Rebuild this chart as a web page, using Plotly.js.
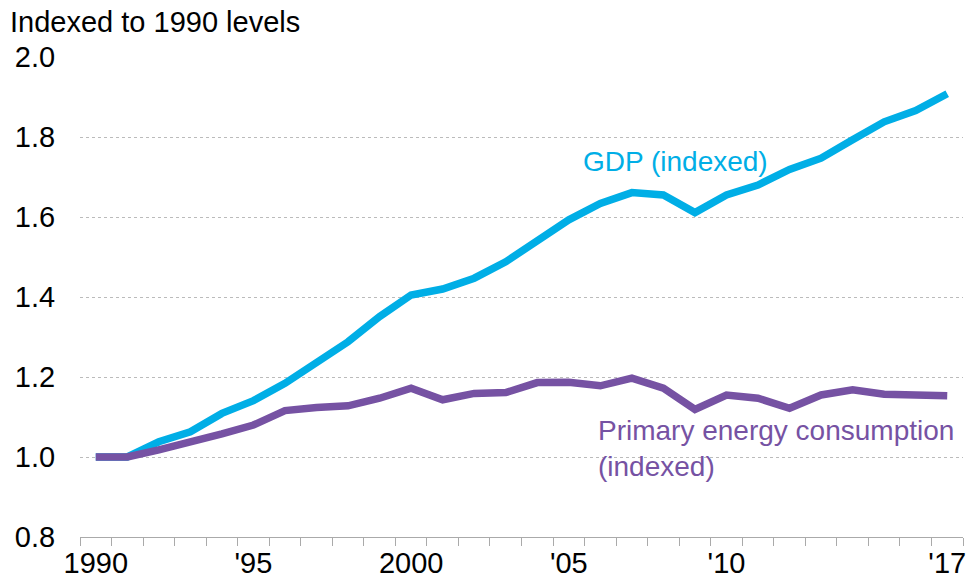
<!DOCTYPE html>
<html><head><meta charset="utf-8">
<script src="https://cdn.plot.ly/plotly-3.0.1.min.js"></script>
<style>html,body{margin:0;padding:0;background:#fff}#chart{width:967px;height:584px}</style>
</head><body><div id="chart"></div>
<script>
const years = [1990,1991,1992,1993,1994,1995,1996,1997,1998,1999,2000,2001,2002,2003,2004,2005,2006,2007,2008,2009,2010,2011,2012,2013,2014,2015,2016,2017];
const gdp = [1.0,1.0,1.038,1.063,1.109,1.141,1.184,1.237,1.288,1.351,1.405,1.42,1.447,1.488,1.543,1.593,1.634,1.661,1.655,1.611,1.655,1.68,1.719,1.747,1.793,1.838,1.866,1.908];
const energy = [1.0,1.0,1.018,1.036,1.058,1.08,1.116,1.124,1.128,1.147,1.172,1.143,1.159,1.161,1.186,1.187,1.178,1.197,1.172,1.119,1.155,1.147,1.122,1.155,1.168,1.157,1.157,1.153];
const tickLabels = {1990:'1990',1995:"'95",2000:'2000',2005:"'05",2010:"'10",2017:"'17"};
const yTicks = [0.8,1.0,1.2,1.4,1.6,1.8,2.0];

const xcat = years.map(String);
const ticktext = years.map(y => tickLabels[y] || '');
const font = {family:'Liberation Sans, Arial, sans-serif', size:29, color:'#000'};

const traces = [
  {x:xcat, y:gdp, type:'scatter', mode:'lines', line:{color:'#00AEE6', width:7.5}, hoverinfo:'skip'},
  {x:xcat, y:energy, type:'scatter', mode:'lines', line:{color:'#7652A3', width:7.5}, hoverinfo:'skip'}
];
const layout = {
  width:967, height:584, showlegend:false,
  paper_bgcolor:'#fff', plot_bgcolor:'#fff',
  margin:{l:80, r:4, t:57, b:47},
  font: font,
  title:{text:'Indexed to 1990 levels', font:font, x:10/967, xanchor:'left', xref:'container', y:1-22/584, yref:'container', yanchor:'middle'},
  xaxis:{type:'category', tickvals:xcat, ticktext:ticktext, tickson:'boundaries', ticks:'outside', ticklen:8, tickcolor:'#aaa', tickwidth:1,
         tickangle:0, showline:true, linecolor:'#aaa', linewidth:1, showgrid:false, zeroline:false, tickfont:font, range:[-0.5, 27.5], automargin:false},
  yaxis:{range:[0.8,2.0], tickvals:yTicks, ticktext:yTicks.map(v=>v.toFixed(1)), ticks:'outside', ticklen:18, tickcolor:'rgba(0,0,0,0)',
         showgrid:true, gridcolor:'#bbb', griddash:'dot', gridwidth:1, zeroline:false, showline:false, tickfont:font, automargin:false},
  annotations:[
    {text:'GDP (indexed)', xref:'paper', yref:'y', x:0, y:0, xanchor:'center', yanchor:'middle', showarrow:false, font:{family:font.family, size:28, color:'#00AEE6'}},
    {text:'Primary energy consumption<br>(indexed)', align:'left', xanchor:'left', yanchor:'middle', showarrow:false,
     font:{family:font.family, size:28, color:'#7652A3'}, xref:'paper', yref:'y', x:0, y:0}
  ]
};
const plotW = 967-80-4, plotH = 584-57-47;
const px2x = px => (px-80)/plotW;
const py2y = py => 0.8 + (537-py)/plotH*1.2;
layout.annotations[0].x = px2x(675); layout.annotations[0].y = py2y(161);
layout.annotations[1].x = px2x(596); layout.annotations[1].y = py2y(448);
Plotly.newPlot('chart', traces, layout, {displayModeBar:false, staticPlot:true});
</script></body></html>
